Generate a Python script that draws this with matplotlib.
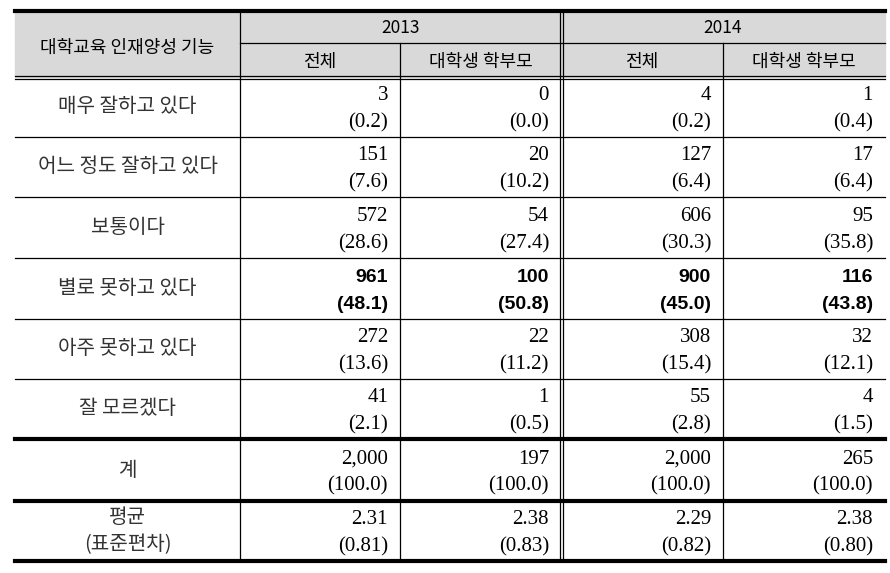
import matplotlib.pyplot as plt
from matplotlib.patches import Rectangle

plt.rcParams['font.family'] = ['Noto Sans CJK KR', 'DejaVu Sans']

# table contents
row_labels = ['매우 잘하고 있다', '어느 정도 잘하고 있다', '보통이다', '별로 못하고 있다',
              '아주 못하고 있다', '잘 모르겠다', '계', '평균\n(표준편차)']
years = ['2013', '2014']
sub_cols = ['전체', '대학생 학부모']
counts = [
    ['3', '0', '4', '1'],
    ['151', '20', '127', '17'],
    ['572', '54', '606', '95'],
    ['961', '100', '900', '116'],
    ['272', '22', '308', '32'],
    ['41', '1', '55', '4'],
    ['2,000', '197', '2,000', '265'],
    ['2.31', '2.38', '2.29', '2.38'],
]
shares = [
    ['0.2', '0.0', '0.2', '0.4'],
    ['7.6', '10.2', '6.4', '6.4'],
    ['28.6', '27.4', '30.3', '35.8'],
    ['48.1', '50.8', '45.0', '43.8'],
    ['13.6', '11.2', '15.4', '12.1'],
    ['2.1', '0.5', '2.8', '1.5'],
    ['100.0', '100.0', '100.0', '100.0'],
    ['0.81', '0.83', '0.82', '0.80'],
]
bold_row = 3

# layout in pixels
W, H = 890, 573
left, right = 15, 885
col_x = [left, 240, 400, 561, 723, right]
top, year_line, head_bot = 11, 43, 77
row_y = [77, 137, 197, 258, 319, 379, 439, 501, 561]

fig = plt.figure(figsize=(W / 100, H / 100), dpi=100)
ax = fig.add_axes([0, 0, 1, 1])
ax.set_xlim(0, W)
ax.set_ylim(H, 0)
ax.axis('off')

ax.add_patch(Rectangle((left, top), right - left, head_bot - top, color='#d9d9d9', zorder=0))

# horizontal lines
ax.plot([left, right], [top, top], color='black', lw=3)
ax.plot([col_x[1], right], [year_line, year_line], color='black', lw=0.9)
ax.plot([left, right], [head_bot - 1.5, head_bot - 1.5], color='black', lw=0.9)
ax.plot([left, right], [head_bot + 1.5, head_bot + 1.5], color='black', lw=0.9)
for i, y in enumerate(row_y[1:], start=1):
    lw = 3 if i >= 6 else 0.9
    ax.plot([left, right], [y, y], color='black', lw=lw)

# vertical lines
ax.plot([col_x[1], col_x[1]], [top, row_y[-1]], color='black', lw=0.9)
for x in [col_x[2], col_x[4]]:
    ax.plot([x, x], [year_line, row_y[-1]], color='black', lw=0.9)
for dx in (-1.5, 1.5):
    ax.plot([col_x[3] + dx] * 2, [top, row_y[-1]], color='black', lw=0.9)

# header
ax.text((col_x[0] + col_x[1]) / 2, 48, '대학교육 인재양성 기능',
        ha='center', va='center', fontsize=13)
for k, yr in enumerate(years):
    x0, x1 = col_x[1 + 2 * k], col_x[3 + 2 * k]
    ax.text((x0 + x1) / 2, (top + year_line) / 2 + 1, yr, ha='center', va='center', fontsize=12.5)
    for j, sc in enumerate(sub_cols):
        xa, xb = col_x[1 + 2 * k + j], col_x[2 + 2 * k + j]
        ax.text((xa + xb) / 2, (year_line + head_bot) / 2 + 2, sc, ha='center', va='center', fontsize=13)

# body
for i, lab in enumerate(row_labels):
    yc = (row_y[i] + row_y[i + 1]) / 2
    ax.text((col_x[0] + col_x[1]) / 2, yc, lab, ha='center', va='center', fontsize=14.5,
            linespacing=1.35, color='#333333')
    for j in range(4):
        xr = col_x[j + 2] - 12
        if i == bold_row:
            fam, fw, fs = 'Liberation Sans', 'bold', 14
        else:
            fam, fw, fs = 'Liberation Serif', 'normal', 15
        ax.text(xr, yc - 11, counts[i][j], ha='right', va='center', fontsize=fs,
                family=fam, weight=fw)
        ax.text(xr, yc + 16, '(' + shares[i][j] + ')', ha='right', va='center', fontsize=fs,
                family=fam, weight=fw)

fig.savefig('out.png', dpi=100)
